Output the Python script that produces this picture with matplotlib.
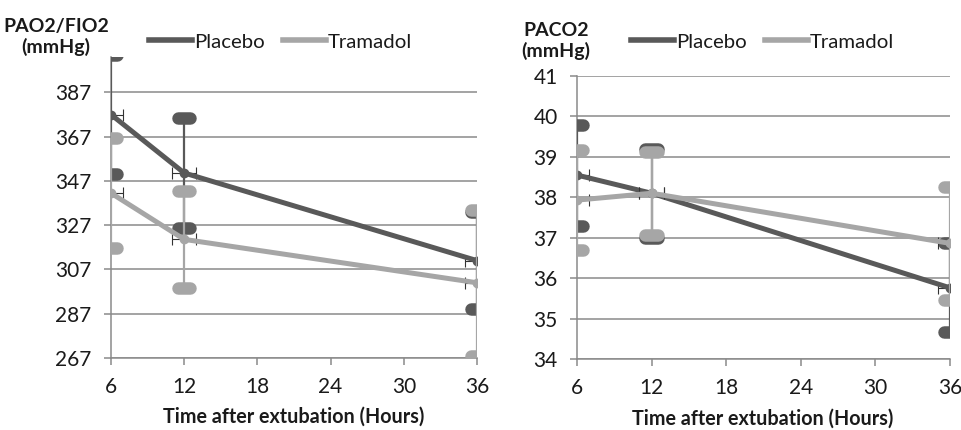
import matplotlib
matplotlib.use("Agg")
import matplotlib.pyplot as plt
from matplotlib.lines import Line2D
import numpy as np

plt.rcParams['font.family'] = ['Lato', 'DejaVu Sans']

# ---- data ----
hours = [6, 12, 36]
hour_err = [1, 1, 1]
groups = ["Placebo", "Tramadol"]

pao2_placebo = [377, 350.6, 311]
pao2_placebo_err = [27, 25, 22]
pao2_tramadol = [341.5, 320.6, 301]
pao2_tramadol_err = [25, 22, 33]

paco2_placebo = [38.55, 38.1, 35.76]
paco2_placebo_err = [1.25, 1.1, 1.1]
paco2_tramadol = [37.93, 38.1, 36.86]
paco2_tramadol_err = [1.24, 1.03, 1.4]

pao2_ticks = [267, 287, 307, 327, 347, 367, 387]
paco2_ticks = [34, 35, 36, 37, 38, 39, 40, 41]
x_ticks = [6, 12, 18, 24, 30, 36]

DARK = '#595959'
LIGHT = '#a6a6a6'
GRID = '#8a8a8a'
TXT = '#1a1a1a'

W, H = 962, 430
fig = plt.figure(figsize=(W / 100, H / 100), dpi=100)


def px_axes(left, top, right, bottom):
    return fig.add_axes([left / W, 1 - bottom / H, (right - left) / W, (bottom - top) / H])


def draw_series(ax, x, y, yerr, color, zo):
    x = np.asarray(x, float)
    y = np.asarray(y, float)
    e = np.asarray(yerr, float)
    ax.vlines(x, y - e, y + e, color=color, linewidth=1.6, zorder=zo)
    for yy in (y + e, y - e):
        lc = ax.hlines(yy, x - 0.5, x + 0.5, color=color, linewidth=9, zorder=zo + 0.1)
        lc.set_capstyle('round')
    ax.errorbar(x, y, xerr=hour_err, fmt='none', ecolor='#333333', elinewidth=0.8,
                capsize=4, capthick=0.8, zorder=zo + 0.2)
    ax.plot(x, y, color=color, linewidth=3.6, marker='o', markersize=6,
            solid_capstyle='round', zorder=zo + 0.5)


def style_axes(ax, ylim, yticks):
    ax.set_xlim(6, 36)
    ax.set_ylim(*ylim)
    ax.set_xticks(x_ticks)
    ax.set_yticks(yticks)
    ax.grid(axis='y', color=GRID, linewidth=1.1)
    ax.set_axisbelow(True)
    for s in ('top', 'right'):
        ax.spines[s].set_visible(False)
    for s in ('left', 'bottom'):
        ax.spines[s].set_color(GRID)
        ax.spines[s].set_linewidth(1.1)
    ax.tick_params(axis='both', colors=GRID, length=5, width=1.1, labelsize=15,
                   labelcolor=TXT, direction='out')
    ax.tick_params(axis='x', pad=9)
    ax.tick_params(axis='y', pad=9)


# ---- left panel ----
ax1 = px_axes(111, 57, 477, 358)
draw_series(ax1, hours, pao2_placebo, pao2_placebo_err, DARK, 3)
draw_series(ax1, hours, pao2_tramadol, pao2_tramadol_err, LIGHT, 4)
style_axes(ax1, (267, 403), pao2_ticks)

# ---- right panel ----
ax2 = px_axes(577, 76, 950, 359)
draw_series(ax2, hours, paco2_placebo, paco2_placebo_err, DARK, 3)
draw_series(ax2, hours, paco2_tramadol, paco2_tramadol_err, LIGHT, 4)
style_axes(ax2, (34, 41), paco2_ticks)

# ---- labels ----
fig.text(56 / W, 1 - 37 / H, 'PAO2/FIO2\n(mmHg)', ha='center', va='center',
         fontsize=14, fontweight='bold', linespacing=1.15, color=TXT)
fig.text(556 / W, 1 - 41 / H, 'PACO2\n(mmHg)', ha='center', va='center',
         fontsize=14, fontweight='bold', linespacing=1.25, color=TXT)
fig.text(294 / W, 1 - 417 / H, 'Time after extubation (Hours)', ha='center', va='center',
         fontsize=14.2, fontweight='bold', color=TXT)
fig.text(763 / W, 1 - 419 / H, 'Time after extubation (Hours)', ha='center', va='center',
         fontsize=14.2, fontweight='bold', color=TXT)

# ---- legends ----
handles = [Line2D([], [], color=DARK, linewidth=4),
           Line2D([], [], color=LIGHT, linewidth=4)]
for xpx in (149, 631):
    fig.legend(handles, groups, loc='center left', bbox_to_anchor=(xpx / W, 1 - 42 / H),
               ncol=2, frameon=False, fontsize=14.7, handlelength=2.1, handletextpad=0.1,
               columnspacing=0.9, borderpad=0, borderaxespad=0, labelcolor=TXT)

fig.savefig('out.png', dpi=100)
